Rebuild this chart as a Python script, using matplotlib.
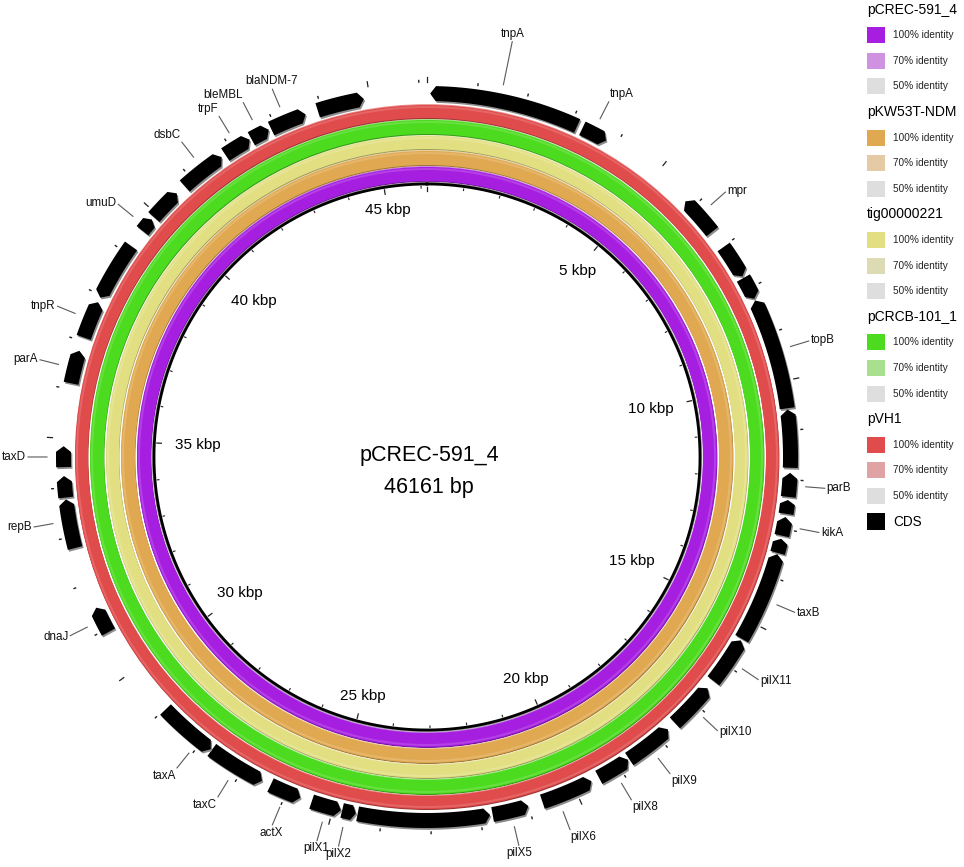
import numpy as np
import matplotlib
matplotlib.use('Agg')
import matplotlib.pyplot as plt
from matplotlib.patches import Wedge, Polygon, Rectangle
from matplotlib.colors import to_rgb

plt.rcParams['font.family'] = ['Liberation Sans', 'DejaVu Sans']

# ---- data ----
genome_len = 46161
center_name = 'pCREC-591_4'

ring_names = ['pCREC-591_4', 'pKW53T-NDM', 'tig00000221', 'pCRCB-101_1', 'pVH1']
ring_color_100 = ['#a61fe0', '#e0a951', '#e2df82', '#4ddb1f', '#e04b4b']
ring_color_70 = ['#cf92e0', '#e4caa5', '#dcdbb3', '#a9e090', '#e0a3a3']
ring_color_50 = ['#dedede', '#dedede', '#dedede', '#dedede', '#dedede']
# blast hits per ring, bp (every ring is covered end to end)
ring_hits = [[(0, 46161)], [(0, 46161)], [(0, 46161)], [(0, 46161)], [(0, 46161)]]

gene_start = [64, 3244, 5809, 7014, 7758, 8271, 10579, 11861, 12412, 12758,
              13207, 13528, 15425, 16605, 17759, 18772, 19631, 21003, 21798, 24529,
              24837, 25696, 26543, 27761, 30928, 32761, 33800, 34416, 36121, 37083,
              37955, 39557, 39917, 40801, 41840, 42455, 42904, 43917]
gene_end = [3129, 3783, 6629, 7719, 8232, 10553, 11758, 12348, 12694, 13143,
            13502, 15387, 16413, 17567, 18746, 19464, 20708, 21747, 24491, 24812,
            25453, 26350, 27735, 28979, 31480, 33762, 34236, 34839, 36800, 37852,
            39173, 39852, 40583, 41750, 42417, 42853, 43660, 44879]
gene_strand = [-1, 1, -1, 1, 1, -1, -1, -1, -1, -1,
               -1, -1, -1, -1, -1, -1, -1, -1, -1, -1,
               -1, -1, -1, -1, 1, 1, 1, 1, 1, 1,
               -1, 1, 1, 1, 1, 1, 1, 1]

label_text = ['tnpA', 'tnpA', 'mpr', 'topB', 'parB', 'kikA', 'taxB', 'pilX11', 'pilX10',
              'pilX9', 'pilX8', 'pilX6', 'pilX5', 'pilX2', 'pilX1', 'actX', 'taxC', 'taxA',
              'dnaJ', 'repB', 'taxD', 'parA', 'tnpR', 'umuD', 'dsbC', 'trpF', 'bleMBL',
              'blaNDM-7']
label_bp = [1487, 3475, 6206, 9373, 12117, 12938, 14477, 15887, 17092,
            18272, 19131, 20388, 21375, 24722, 25132, 26004, 27132, 28056,
            31210, 33326, 34621, 36429, 37467, 39660, 41301, 42135, 42648,
            43237]

kbp_ticks = [5000, 10000, 15000, 20000, 25000, 30000, 35000, 40000, 45000]

# ---- layout ----
cx, cy = 427, 457
ring_r = [(276, 290), (292, 306), (308, 321), (323, 337), (339, 352)]
r_backbone = 273
gene_r = (356, 371)


def deg(bp):
    return bp / genome_len * 360.0


def pol(theta, r):
    t = np.radians(theta)
    return cx + r * np.sin(t), cy - r * np.cos(t)


def mix(c, other, f):
    a = np.array(to_rgb(c))
    b = np.array(to_rgb(other))
    return tuple(a * (1 - f) + b * f)


fig = plt.figure(figsize=(9.64, 8.67), dpi=100)
ax = fig.add_axes([0, 0, 1, 1])
ax.set_xlim(0, 964)
ax.set_ylim(867, 0)
ax.axis('off')

# identity rings, light emboss (highlight above, shadow below)
for i, name in enumerate(ring_names):
    r0, r1 = ring_r[i]
    col = ring_color_100[i]
    for s, e in ring_hits[i]:
        a0, a1 = deg(s) - 90, deg(e) - 90
        ax.add_patch(Wedge((cx, cy - 0.9), r1, a0, a1, width=r1 - r0,
                           color=mix(col, 'white', 0.4), lw=0))
        ax.add_patch(Wedge((cx + 0.4, cy + 1.0), r1, a0, a1, width=r1 - r0,
                           color=mix(col, 'black', 0.3), lw=0))
        ax.add_patch(Wedge((cx, cy), r1, a0, a1, width=r1 - r0, color=col, lw=0))
        ax.add_patch(Wedge((cx, cy), r1 - 1, a0, a1, width=2,
                           color=mix(col, 'white', 0.15), lw=0))

# backbone circle
th = np.linspace(0, 360, 721)
x, y = pol(th, r_backbone + 1.2)
ax.plot(x, y, color='#9a9a9a', lw=1.4)
x, y = pol(th, r_backbone)
ax.plot(x, y, color='black', lw=2.0)

# scale ticks inside the backbone and outside the genes
for k in range(0, genome_len // 1000 + 1):
    a = deg(k * 1000)
    major = (k % 5 == 0)
    x, y = pol(a, np.array([r_backbone - (7 if major else 4), r_backbone - 2.5]))
    ax.plot(x, y, color='#222222', lw=0.9 if major else 0.8)
    x, y = pol(a, np.array([375, 380 if major else 376.6]))
    ax.plot(x, y, color='#222222', lw=0.9 if major else 1.0)

# kbp labels
for bp in kbp_ticks:
    a = deg(bp)
    txt = '%d kbp' % (bp // 1000)
    hw = 5 * len(txt) + 2
    hh = 7
    r = 262 - (hw * abs(np.sin(np.radians(a))) + hh * abs(np.cos(np.radians(a))))
    x, y = pol(a, r)
    ax.text(x, y, txt, fontsize=11, ha='center', va='center')

# genes (CDS)
gr0, gr1 = gene_r
grm = (gr0 + gr1) / 2
for s, e, strand in zip(gene_start, gene_end, gene_strand):
    a0, a1 = deg(s), deg(e)
    tip = min(0.9, 0.3 * (a1 - a0))
    if strand > 0:
        t = np.linspace(a0, a1 - tip, 40)
        xo, yo = pol(t, gr1)
        xi, yi = pol(t[::-1], gr0)
        xt, yt = pol(a1, grm)
        pts = list(zip(xo, yo)) + [(xt, yt)] + list(zip(xi, yi))
    else:
        t = np.linspace(a0 + tip, a1, 40)
        xo, yo = pol(t, gr1)
        xi, yi = pol(t[::-1], gr0)
        xt, yt = pol(a0, grm)
        pts = list(zip(xo, yo)) + list(zip(xi, yi)) + [(xt, yt)]
    pts = np.array(pts)
    ax.add_patch(Polygon(pts + [1.3, 1.8], closed=True, color='#8c8c8c', lw=0))
    ax.add_patch(Polygon(pts, closed=True, color='black', lw=0))

# gene labels with leader lines
ha_override = {'actX': 'center', 'blaNDM-7': 'center', 'pilX6': 'left'}
for i, (txt, bp) in enumerate(zip(label_text, label_bp)):
    a = deg(bp)
    r_end = 424 if i == 0 else 399
    x, y = pol(a, np.array([380, r_end]))
    ax.plot(x, y, color='#5a5a5a', lw=0.8)
    s, c = np.sin(np.radians(a)), np.cos(np.radians(a))
    ha = 'left' if s > 0.35 else ('right' if s < -0.35 else 'center')
    ha = ha_override.get(txt, ha)
    va = 'bottom' if c > 0.75 else ('top' if c < -0.75 else 'center')
    tx, ty = pol(a, r_end + 2)
    ax.text(tx, ty, txt, fontsize=8.4, ha=ha, va=va, color='#111111')

# centre title
ax.text(cx + 2, cy - 2, center_name, fontsize=15.5, ha='center', va='center')
ax.text(cx + 2, cy + 30, '%d bp' % genome_len, fontsize=15.5, ha='center', va='center')

# legend
lx, row0, step = 867, 9.6, 25.6
row = 0
for i, name in enumerate(ring_names):
    ax.text(lx, row0 + row * step, name, fontsize=10, ha='left', va='center')
    row += 1
    for col, lab in zip([ring_color_100[i], ring_color_70[i], ring_color_50[i]],
                        ['100% identity', '70% identity', '50% identity']):
        yy = row0 + row * step
        ax.add_patch(Rectangle((lx, yy - 8), 18, 16, color=col, lw=0))
        ax.text(lx + 26, yy, lab, fontsize=7.2, ha='left', va='center', color='#222222')
        row += 1
yy = row0 + row * step
ax.add_patch(Rectangle((lx, yy - 8.5), 18, 17, color='black', lw=0))
ax.text(lx + 26, yy, 'CDS', fontsize=9.8, ha='left', va='center')

fig.savefig('out.png', dpi=100)
